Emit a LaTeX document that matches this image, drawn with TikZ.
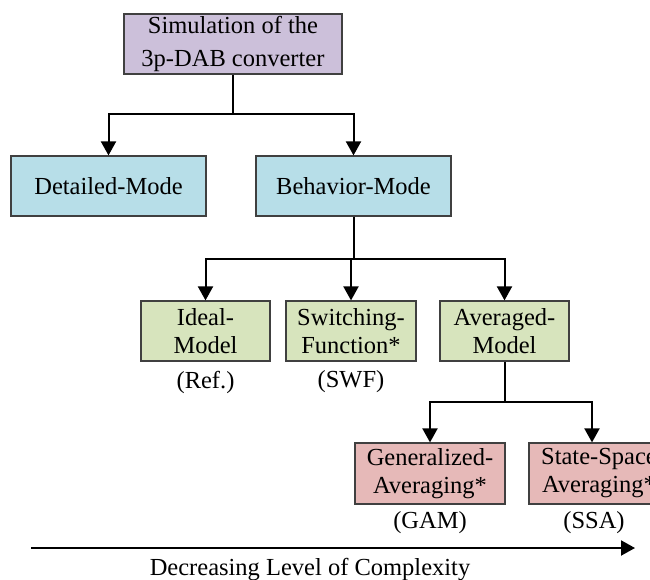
\documentclass[tikz,border=0pt]{standalone}
\usepackage{fontspec}
\setmainfont{Liberation Serif}
\usetikzlibrary{arrows.meta}
\newcommand\figfont{\fontsize{24.5}{28}\selectfont}
\newcommand\topfont{\fontsize{24.5}{33}\selectfont}
\definecolor{boxline}{HTML}{404040}
\definecolor{cpurple}{HTML}{CCC0DA}
\definecolor{cblue}{HTML}{B7DEE8}
\definecolor{cgreen}{HTML}{D7E4BD}
\definecolor{cred}{HTML}{E6B9B8}
\tikzset{
  box/.style={draw=boxline, line width=1.2pt, minimum height=60pt, inner sep=0pt, align=center, font=\figfont},
  lbl/.style={inner sep=0pt, font=\figfont},
  conn/.style={line width=2pt, black},
  arr/.style={conn, -{Triangle[length=14pt,width=15pt]}},
}
\begin{document}
\begin{tikzpicture}[x=1pt,y=-1pt]
\useasboundingbox (0,0) rectangle (650,580);
\clip (0,0) rectangle (650,580);
\node[box, fill=cpurple, minimum width=218pt, font=\topfont] (top) at (233,44) {Simulation of the\\3p-DAB converter};
\node[box, fill=cblue, minimum width=195pt] (det) at (108.5,186) {Detailed-Mode};
\node[box, fill=cblue, minimum width=195pt] (beh) at (353.5,186) {Behavior-Mode};
\node[box, fill=cgreen, minimum width=129pt] (ideal) at (205.5,331) {Ideal-\\Model};
\node[box, fill=cgreen, minimum width=130pt] (swf) at (351,331) {Switching-\\Function*};
\node[box, fill=cgreen, minimum width=129pt] (avg) at (504.5,331) {Averaged-\\Model};
\node[box, fill=cred, minimum width=150pt, minimum height=61pt] (gam) at (430,473.5) {Generalized-\\Averaging*};
\node[box, fill=cred, minimum width=140pt, minimum height=61pt] (ssa) at (599,473.5) {State-Space\\Averaging*};
\node[lbl] (lref) at (205.5,382) {(Ref.)};
\node[lbl] (lswf) at (351,382) {(SWF)};
\node[lbl] (lgam) at (430,523) {(GAM)};
\node[lbl] (lssa) at (594,523) {(SSA)};
\coordinate (j1) at (233,114);
\coordinate (j2) at (353.5,259);
\coordinate (j3) at (504.5,402);
\draw[conn] (top.south) -- (j1);
\draw[arr] (j1) -| (det.north);
\draw[arr] (j1) -| (beh.north);
\draw[conn] (beh.south) -- (j2);
\draw[arr] (j2) -| (ideal.north);
\draw[arr] (j2) -| (swf.north);
\draw[arr] (j2) -| (avg.north);
\draw[conn] (avg.south) -- (j3);
\draw[arr] (j3) -| (gam.north);
\draw[arr] (j3) -| ([xshift=-7pt]ssa.north);
\coordinate (as) at (31,548);
\coordinate (ae) at (635,548);
\draw[arr] (as) -- (ae);
\node[lbl] (cx) at (310,570) {Decreasing Level of Complexity};
\end{tikzpicture}
\end{document}
